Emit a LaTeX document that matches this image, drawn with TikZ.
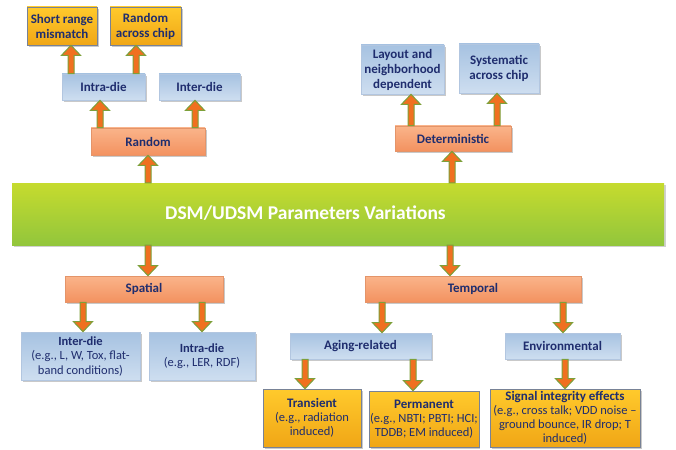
\documentclass[tikz,border=0pt]{standalone}
\usepackage{fontspec}
\setmainfont{Carlito}
\usetikzlibrary{calc,shadows}

\definecolor{navy}{RGB}{31,45,110}
\definecolor{orTop}{RGB}{250,180,138}
\definecolor{orBot}{RGB}{243,146,96}
\definecolor{orLine}{RGB}{228,148,105}
\definecolor{blTop}{RGB}{166,194,225}
\definecolor{blBot}{RGB}{206,222,240}
\definecolor{blLine}{RGB}{178,198,224}
\definecolor{yeTop}{RGB}{255,202,44}
\definecolor{yeBot}{RGB}{240,166,22}
\definecolor{yeLine}{RGB}{120,130,150}
\definecolor{grTop}{RGB}{198,219,46}
\definecolor{grBot}{RGB}{146,198,60}
\definecolor{arFill}{RGB}{240,112,32}
\definecolor{arLine}{RGB}{125,160,58}

\tikzset{
  box/.style={rectangle, align=center, inner sep=1pt, text=navy,
    drop shadow={shadow xshift=1.6pt, shadow yshift=-1.6pt, opacity=0.35, fill=black!60}},
  obox/.style={box, top color=orTop, bottom color=orBot, draw=orLine, line width=0.6pt,
    font=\fontsize{13}{15}\selectfont\bfseries},
  bbox/.style={box, top color=blTop, bottom color=blBot, draw=blLine, line width=0.6pt,
    font=\fontsize{13}{15}\selectfont\bfseries},
  bdesc/.style={box, top color=blTop, bottom color=blBot, draw=blLine, line width=0.6pt,
    font=\fontsize{12.5}{14.5}\selectfont},
  ybox/.style={box, top color=yeTop, bottom color=yeBot, draw=yeLine, line width=0.6pt,
    font=\fontsize{13}{15}\selectfont\bfseries},
  ydesc/.style={box, top color=yeTop, bottom color=yeBot, draw=yeLine, line width=0.6pt,
    font=\fontsize{12.5}{14}\selectfont},
  arrowbody/.style={fill=arFill, draw=arLine, line width=1pt, line join=miter}
}

% vertical block arrow at x = #1 (pt) from the edge #2 to the edge #3
\newcommand\blockarrow[3]{%
  \path[arrowbody] let \p1=(#2), \p2=(#3), \n1={(\y2-\y1)/abs(\y2-\y1)} in
    (#1pt-3pt,\y1) -- (#1pt-3pt,\y2-\n1*10pt) -- (#1pt-9.5pt,\y2-\n1*10pt)
    -- (#1pt,\y2) -- (#1pt+9.5pt,\y2-\n1*10pt) -- (#1pt+3pt,\y2-\n1*10pt)
    -- (#1pt+3pt,\y1) -- cycle;}

\begin{document}
\begin{tikzpicture}[x=1pt,y=-1pt]
\useasboundingbox[fill=white] (0,0) rectangle (676,449);

% central bar
\node[rectangle, top color=grTop, bottom color=grBot, minimum width=652pt, minimum height=62pt,
  drop shadow={shadow xshift=1.6pt, shadow yshift=-1.6pt, opacity=0.3, fill=black!60}]
  (bar) at (338,214) {};
\node[text=white, font=\fontsize{19.5}{22}\selectfont\bfseries] (title) at (305.5,213)
  {DSM/UDSM Parameters Variations};

% random branch
\node[obox, minimum width=114pt, minimum height=27pt] (random) at (148,141.5) {Random};
\node[bbox, minimum width=83pt, minimum height=26pt] (intraT) at (103.5,87) {Intra-die};
\node[bbox, minimum width=81pt, minimum height=26pt] (interT) at (199.5,87) {Inter-die};
\node[ybox, minimum width=70pt, minimum height=38pt] (srm) at (62,26) {Short range\\mismatch};
\node[ybox, minimum width=71pt, minimum height=38pt] (rac) at (145.5,26) {Random\\across chip};

% deterministic branch
\node[obox, minimum width=116pt, minimum height=25pt] (determ) at (453,138.5) {Deterministic};
\node[bbox, minimum width=83pt, minimum height=49pt] (layout) at (402.5,69.5) {Layout and\\neighborhood\\dependent};
\node[bbox, minimum width=80pt, minimum height=49pt] (syst) at (499,68.5) {Systematic\\across chip};

% spatial branch
\node[obox, minimum width=158pt, minimum height=26pt] (spatial) at (144,289) {Spatial};
\node[bdesc, minimum width=119pt, minimum height=48pt] (interB) at (80.5,356)
  {\textbf{Inter-die}\\(e.g., L, W, Tox, flat-\\band conditions)};
\node[bdesc, minimum width=106pt, minimum height=48pt] (intraB) at (202,356)
  {\textbf{Intra-die}\\(e.g., LER, RDF)};

% temporal branch
\node[obox, minimum width=216pt, minimum height=26pt] (temporal) at (473,289) {Temporal};
\node[bbox, minimum width=141pt, minimum height=26pt] (aging) at (360.5,346) {Aging-related};
\node[bbox, minimum width=115pt, minimum height=26pt] (env) at (562.5,346) {Environmental};
\node[ydesc, minimum width=98pt, minimum height=58pt] (trans) at (312,418)
  {\textbf{\fontsize{13}{15}\selectfont Transient}\\(e.g., radiation\\induced)};
\node[ydesc, minimum width=102pt, minimum height=56pt] (perm) at (424,419)
  {\textbf{\fontsize{13}{15}\selectfont Permanent}\\(e.g., NBTI; PBTI; HCI;\\TDDB; EM induced)};
\node[ydesc, minimum width=150pt, minimum height=58pt] (sig) at (565,418)
  {\textbf{\fontsize{13}{15}\selectfont Signal integrity effects}\\(e.g., cross talk; VDD noise –\\ground bounce, IR drop; T\\induced)};

% arrows
\blockarrow{148}{bar.north}{random.south}
\blockarrow{100}{random.north}{intraT.south}
\blockarrow{195}{random.north}{interT.south}
\blockarrow{71}{intraT.north}{srm.south}
\blockarrow{136}{intraT.north}{rac.south}
\blockarrow{452}{bar.north}{determ.south}
\blockarrow{411}{determ.north}{layout.south}
\blockarrow{497}{determ.north}{syst.south}
\blockarrow{148}{bar.south}{spatial.north}
\blockarrow{450}{bar.south}{temporal.north}
\blockarrow{83}{spatial.south}{interB.north}
\blockarrow{202}{spatial.south}{intraB.north}
\blockarrow{382}{temporal.south}{aging.north}
\blockarrow{563}{temporal.south}{env.north}
\blockarrow{305}{aging.south}{trans.north}
\blockarrow{413}{aging.south}{perm.north}
\blockarrow{565}{env.south}{sig.north}
\end{tikzpicture}
\end{document}
